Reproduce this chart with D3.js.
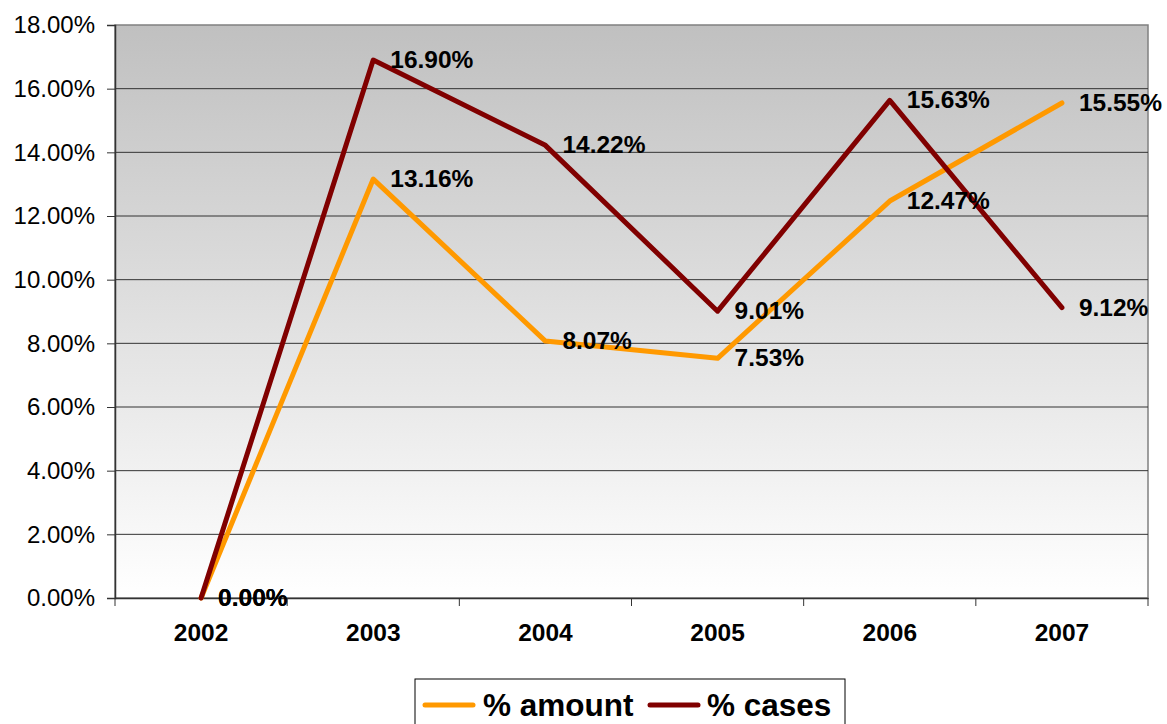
<!DOCTYPE html>
<head>
<meta charset="utf-8">
<style>
  body { margin: 0; background: white; }
  svg { font-family: 'Liberation Sans', Arial, sans-serif; }
  .ylab { font-size: 24px; fill: #000; }
  .xlab { font-size: 24.5px; font-weight: bold; fill: #000; }
  .dlab { font-size: 24.5px; font-weight: bold; fill: #000; }
  .leg { font-size: 31.5px; font-weight: bold; fill: #000; }
</style>
</head>
<body>
<script src="https://d3js.org/d3.v7.min.js"></script>
<script>
// DATA
const years = ['2002', '2003', '2004', '2005', '2006', '2007'];
const amount = [0.00, 13.16, 8.07, 7.53, 12.47, 15.55];
const cases = [0.00, 16.90, 14.22, 9.01, 15.63, 9.12];
const yTicks = [0, 2, 4, 6, 8, 10, 12, 14, 16, 18];

const width = 1167, height = 724;
const margin = {top: 25, right: 19, bottom: 126, left: 115};

const svg = d3.select('body').append('svg')
  .attr('width', width)
  .attr('height', height);

// SCALES
const x = d3.scaleBand(years, [margin.left, width - margin.right]);
const y = d3.scaleLinear([0, 18], [height - margin.bottom, margin.top]);

// background gradient
const grad = svg.append('defs').append('linearGradient')
  .attr('id', 'bg').attr('x1', 0).attr('y1', 0).attr('x2', 0).attr('y2', 1);
grad.append('stop').attr('offset', '0%').attr('stop-color', '#c0c0c0');
grad.append('stop').attr('offset', '100%').attr('stop-color', '#ffffff');

svg.append('rect')
  .attr('x', margin.left).attr('y', margin.top)
  .attr('width', width - margin.right - margin.left)
  .attr('height', height - margin.bottom - margin.top)
  .attr('fill', 'url(#bg)')
  .attr('stroke', '#808080').attr('stroke-width', 1.5);

// gridlines
svg.append('g').selectAll('line')
  .data(yTicks.slice(1, -1))
  .join('line')
  .attr('x1', margin.left).attr('x2', width - margin.right)
  .attr('y1', d => y(d)).attr('y2', d => y(d))
  .attr('stroke', '#333').attr('stroke-width', 1);

// Y AXIS
const yAxisG = svg.append('g')
  .attr('transform', `translate(${margin.left},0)`)
  .call(d3.axisLeft(y).tickValues(yTicks).tickSize(8).tickPadding(12)
    .tickFormat(d => d.toFixed(2) + '%'));
yAxisG.select('.domain').attr('stroke', '#333').attr('stroke-width', 1.5);
yAxisG.selectAll('.tick line').attr('stroke', '#333');
yAxisG.selectAll('.tick text').attr('class', 'ylab').attr('font-size', null).attr('font-family', null);

// X AXIS
const xAxisG = svg.append('g')
  .attr('transform', `translate(0,${height - margin.bottom})`)
  .call(d3.axisBottom(x).tickSize(0).tickPadding(26));
xAxisG.select('.domain').attr('stroke', '#333').attr('stroke-width', 1.5);
xAxisG.selectAll('.tick text').attr('class', 'xlab').attr('font-size', null).attr('font-family', null);
// boundary ticks
svg.append('g').selectAll('line')
  .data(years.concat(['end']))
  .join('line')
  .attr('x1', (d, i) => margin.left + i * x.step())
  .attr('x2', (d, i) => margin.left + i * x.step())
  .attr('y1', height - margin.bottom)
  .attr('y2', height - margin.bottom + 8)
  .attr('stroke', '#333');

// LINES
const cx = (d, i) => x(years[i]) + x.bandwidth() / 2;
const line = d3.line().x(cx).y(d => y(d));
const series = [
  {name: '% amount', values: amount, color: '#ff9900'},
  {name: '% cases', values: cases, color: '#800000'}
];

series.forEach(s => {
  svg.append('path')
    .datum(s.values)
    .attr('d', line)
    .attr('fill', 'none')
    .attr('stroke', s.color)
    .attr('stroke-width', 5)
    .attr('stroke-linejoin', 'round')
    .attr('stroke-linecap', 'round');
});

series.forEach(s => {
  svg.append('g').selectAll('text')
    .data(s.values)
    .join('text')
    .attr('class', 'dlab')
    .attr('x', (d, i) => cx(d, i) + 17)
    .attr('y', d => y(d) + 8)
    .text(d => d.toFixed(2) + '%');
});

// LEGEND
const leg = svg.append('g');
leg.append('rect')
  .attr('x', 415).attr('y', 679)
  .attr('width', 430).attr('height', 60)
  .attr('fill', 'white').attr('stroke', '#000').attr('stroke-width', 1);
const legItems = [{x: 425, tx: 483}, {x: 650, tx: 707}];
series.forEach((s, i) => {
  leg.append('line')
    .attr('x1', legItems[i].x).attr('x2', legItems[i].x + 48)
    .attr('y1', 705).attr('y2', 705)
    .attr('stroke', s.color).attr('stroke-width', 5)
    .attr('stroke-linecap', 'round');
  leg.append('text')
    .attr('class', 'leg')
    .attr('x', legItems[i].tx).attr('y', 716)
    .text(s.name);
});
</script>
</body>
